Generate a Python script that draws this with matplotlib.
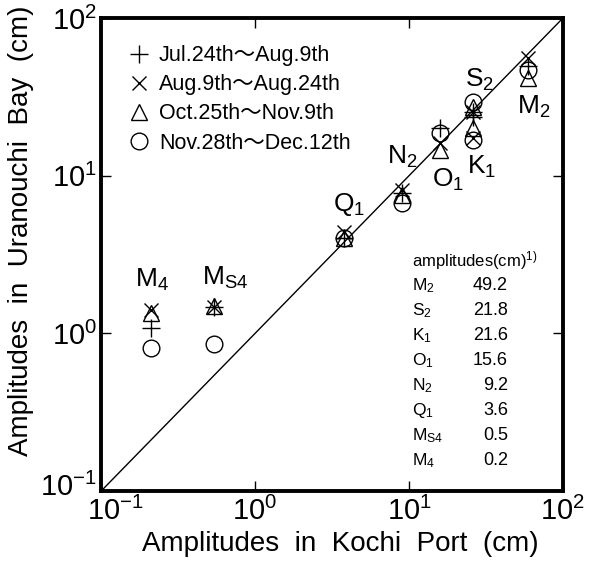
import matplotlib
matplotlib.use("Agg")
import matplotlib.pyplot as plt
import matplotlib.transforms as mtransforms

plt.rcParams['font.family'] = ['Liberation Sans', 'Noto Sans CJK JP', 'DejaVu Sans']
plt.rcParams['mathtext.fontset'] = 'custom'
plt.rcParams['mathtext.rm'] = 'Liberation Sans'
plt.rcParams['mathtext.it'] = 'Liberation Sans:italic'
plt.rcParams['mathtext.bf'] = 'Liberation Sans:bold'

# constituents, order: M2, S2, K1, O1, N2, Q1, MS4, M4
constituents = ['M_2', 'S_2', 'K_1', 'O_1', 'N_2', 'Q_1', 'M_{S4}', 'M_4']
kochi = [59.0, 26.0, 26.0, 15.9, 9.0, 3.8, 0.54, 0.21]

bay_jul = [50.0, 25.4, 23.6, 20.0, 7.8, 4.0, 1.47, 1.08]
bay_aug = [55.7, 25.4, 17.4, 16.1, 8.1, 4.4, 1.47, 1.41]
bay_oct = [41.7, 27.3, 20.0, 14.6, 7.5, 4.0, 1.50, 1.35]
bay_nov = [46.8, 29.3, 16.8, 18.6, 6.7, 4.0, 0.86, 0.81]

periods = ['Jul.24th〜Aug.9th', 'Aug.9th〜Aug.24th',
           'Oct.25th〜Nov.9th', 'Nov.28th〜Dec.12th']

# reference amplitudes table (cm)
table_amp = ['49.2', '21.8', '21.6', '15.6', '9.2', '3.6', '0.5', '0.2']

lims = [0.1, 100]

fig = plt.figure(figsize=(5.95, 5.67), dpi=100)
ax = fig.add_axes([0.170, 0.134, 0.776, 0.834])

ax.plot(lims, lims, color='black', lw=1.0, zorder=1)

styles = [
    dict(marker='+', ms=13, mew=1.0),
    dict(marker='x', ms=10, mew=1.0),
    dict(marker='^', ms=11, mew=1.0, mfc='none'),
    dict(marker='o', ms=12, mew=1.0, mfc='none'),
]
for vals, lab, st in zip([bay_jul, bay_aug, bay_oct, bay_nov], periods, styles):
    ax.plot(kochi, vals, ls='none', color='black', mec='black', label=lab, **st)

ax.set_xscale('log')
ax.set_yscale('log')
ax.set_xlim(lims)
ax.set_ylim(lims)
ax.minorticks_off()
ax.tick_params(which='both', direction='in', top=True, right=True,
               length=7, width=1.0, labelsize=21)
ax.tick_params(axis='x', pad=4)
ax.tick_params(axis='y', pad=3)
for sp in ax.spines.values():
    sp.set_linewidth(2.8)

ax.set_xlabel('Amplitudes  in  Kochi  Port  (cm)', fontsize=20)
ax.set_ylabel('Amplitudes  in  Uranouchi  Bay  (cm)', fontsize=20)
ax.xaxis.set_label_coords(0.517, -0.085)
ax.yaxis.set_label_coords(-0.145, 0.55)

# nudge the corner tick labels apart, as in the original
fig.canvas.draw()
for t in ax.xaxis.get_major_ticks():
    if abs(t.get_loc() - lims[0]) < 1e-9:
        t.label1.set_transform(t.label1.get_transform() +
                               mtransforms.ScaledTranslation(0.14, 0, fig.dpi_scale_trans))
for t in ax.yaxis.get_major_ticks():
    if abs(t.get_loc() - lims[0]) < 1e-9:
        t.label1.set_transform(t.label1.get_transform() +
                               mtransforms.ScaledTranslation(0, 0.07, fig.dpi_scale_trans))

# constituent labels (axes fraction)
label_pos = {
    'M_2': (0.937, 0.812), 'S_2': (0.820, 0.869), 'K_1': (0.823, 0.685),
    'O_1': (0.751, 0.658), 'N_2': (0.652, 0.706), 'Q_1': (0.537, 0.605),
    'M_{S4}': (0.268, 0.450), 'M_4': (0.110, 0.446),
}
for name in constituents:
    x, y = label_pos[name]
    ax.text(x, y, r'$\mathregular{%s}$' % name, transform=ax.transAxes,
            fontsize=19, ha='center', va='center')

leg = ax.legend(loc='upper left', bbox_to_anchor=(0.025, 0.975), frameon=False,
                fontsize=15.5, handlelength=1.0, handletextpad=0.45,
                labelspacing=0.38, borderaxespad=0.3)

# amplitudes table
x_name, x_val, y0, dy = 0.673, 0.881, 0.488, 0.0529
ax.text(x_name, y0, r'amplitudes(cm)$^{\mathregular{1)}}$', transform=ax.transAxes,
        fontsize=12, ha='left', va='center')
for i, (name, amp) in enumerate(zip(constituents, table_amp)):
    yy = y0 - dy * (i + 1)
    ax.text(x_name, yy, r'$\mathregular{%s}$' % name, transform=ax.transAxes,
            fontsize=12.5, ha='left', va='center')
    ax.text(x_val, yy, amp, transform=ax.transAxes,
            fontsize=13, ha='right', va='center')

fig.savefig('out.png', dpi=100)
